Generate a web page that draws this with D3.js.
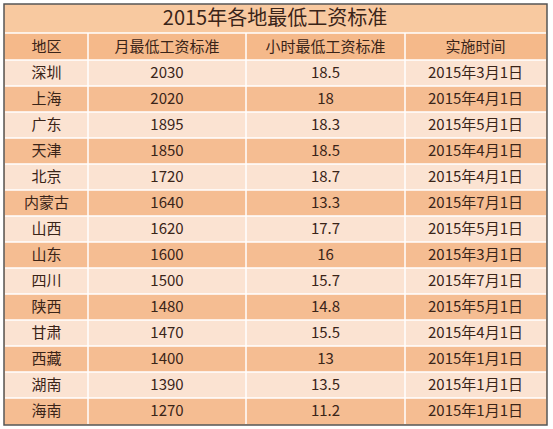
<!DOCTYPE html><html><head><meta charset="utf-8"><script src="https://cdn.jsdelivr.net/npm/d3@7"></script>
<style>body{margin:0;background:#fff}</style></head><body><svg id="c" width="553" height="429"></svg>
<script>
const title="2015年各地最低工资标准";
const headers=["地区","月最低工资标准","小时最低工资标准","实施时间"];
const regions=["深圳","上海","广东","天津","北京","内蒙古","山西","山东","四川","陕西","甘肃","西藏","湖南","海南"];
const monthly=[2030,2020,1895,1850,1720,1640,1620,1600,1500,1480,1470,1400,1390,1270];
const hourly=["18.5","18","18.3","18.5","18.7","13.3","17.7","16","15.7","14.8","15.5","13","13.5","11.2"];
const dates=["2015年3月1日","2015年4月1日","2015年5月1日","2015年4月1日","2015年4月1日","2015年7月1日","2015年5月1日","2015年3月1日","2015年7月1日","2015年5月1日","2015年4月1日","2015年1月1日","2015年1月1日","2015年1月1日"];
const svg=d3.select("#c");
const font="'Noto Sans CJK SC',sans-serif";
const colEdges=[5,88,246,405,546];
const T0=5,titleH=28,headH=27;
const y=d3.scaleBand().domain(d3.range(regions.length)).range([T0+titleH+headH,424]);
svg.append("rect").attr("x",4).attr("y",4).attr("width",543).attr("height",421).attr("fill","#f8c9a0").attr("stroke","#555").attr("stroke-width",1.5);
svg.append("text").attr("x",275).attr("y",T0+titleH/2+1).attr("text-anchor","middle").attr("dominant-baseline","middle").attr("font-family",font).attr("font-size",20).attr("fill","#3a2418").text(title);
svg.append("rect").attr("x",5).attr("y",T0+titleH).attr("width",541).attr("height",headH).attr("fill","#f5b98a");
headers.forEach((h,i)=>svg.append("text").attr("x",(colEdges[i]+colEdges[i+1])/2).attr("y",T0+titleH+headH/2+1).attr("text-anchor","middle").attr("dominant-baseline","middle").attr("font-family",font).attr("font-size",15).attr("fill","#3a2418").text(h));
const rows=regions.map((r,i)=>[r,monthly[i],hourly[i],dates[i]]);
const g=svg.selectAll("g.r").data(rows).join("g");
g.append("rect").attr("x",5).attr("y",(d,i)=>y(i)).attr("width",541).attr("height",y.bandwidth()).attr("fill",(d,i)=>i%2?"#f5bd92":"#fbe3d2");
g.each(function(d,i){const s=d3.select(this);d.forEach((v,j)=>s.append("text").attr("x",(colEdges[j]+colEdges[j+1])/2).attr("y",y(i)+y.bandwidth()/2+1).attr("text-anchor","middle").attr("dominant-baseline","middle").attr("font-family",font).attr("font-size",15).attr("fill","#3a2418").text(v));});
svg.append("line").attr("x1",5).attr("x2",546).attr("y1",T0+titleH).attr("y2",T0+titleH).attr("stroke","#fff").attr("stroke-width",1.5);
d3.range(regions.length).forEach(i=>svg.append("line").attr("x1",5).attr("x2",546).attr("y1",y(i)).attr("y2",y(i)).attr("stroke","#fff").attr("stroke-width",1.5));
colEdges.slice(1,4).forEach(x=>svg.append("line").attr("x1",x).attr("x2",x).attr("y1",T0+titleH).attr("y2",424).attr("stroke","#fff").attr("stroke-width",1.5));
</script></body></html>
